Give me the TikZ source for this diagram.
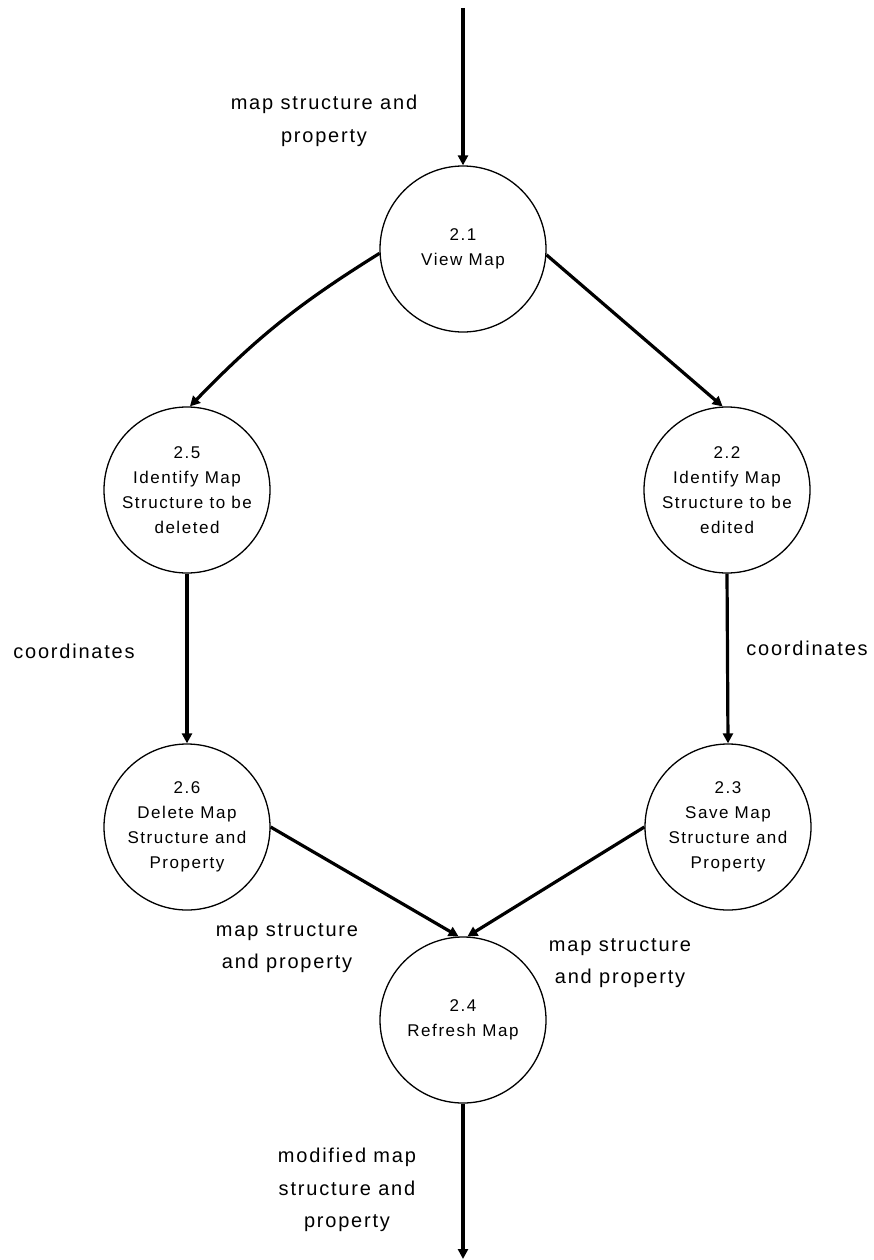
\documentclass[tikz,border=0pt]{standalone}
\usepackage{fontspec}
\usetikzlibrary{arrows.meta}
\newfontfamily\dfdfont[LetterSpace=9]{Liberation Sans}

\begin{document}
\begin{tikzpicture}[
        x={(1pt,0pt)},
        y={(0pt,-1pt)},
        proc/.style={circle, draw, line width=1.3pt, minimum size=166pt, inner sep=0pt,
          align=center, font=\dfdfont\fontsize{17}{25}\selectfont},
        lbl/.style={align=center, font=\dfdfont\fontsize{20}{32.5}\selectfont},
        flow/.style={-{Triangle[length=10pt,width=10pt]}, line width=3.2pt},
        ]
        \useasboundingbox (0,0) rectangle (874,1260);

        \node(p21)[proc] at (463,249) {2.1\\View Map};
        \node(p25)[proc] at (187,490) {2.5\\Identify Map\\Structure to be\\deleted};
        \node(p22)[proc] at (727,490) {2.2\\Identify Map\\Structure to be\\edited};
        \node(p26)[proc] at (187,827) {2.6\\Delete Map\\Structure and\\Property};
        \node(p23)[proc] at (728,827) {2.3\\Save Map\\Structure and\\Property};
        \node(p24)[proc] at (463,1020) {2.4\\Refresh Map};

        \coordinate(src) at (463,8);
        \coordinate(sink) at (463,1259);

        % flows
        \draw[flow](src)--(p21.north);
        \draw[flow](p21.183) to[bend right=7] (p25.88);
        \draw[flow](p21.-4)--(p22.93);
        \draw[flow](p25.south)--(p26.north);
        \draw[flow](p22.south)--(p23.north);
        \draw[flow](p26.east)--(p24.93);
        \draw[flow](p23.west)--(p24.87);
        \draw[flow](p24.south)--(sink);

        % labels
        \node(l1)[lbl] at (324,121) {map structure and\\property};
        \node(l2)[lbl] at (74,651) {coordinates};
        \node(l3)[lbl] at (807,648) {coordinates};
        \node(l4)[lbl] at (287,948) {map structure\\and property};
        \node(l5)[lbl] at (620,963) {map structure\\and property};
        \node(l6)[lbl] at (347,1190) {modified map\\structure and\\property};
      \end{tikzpicture}
\end{document}
